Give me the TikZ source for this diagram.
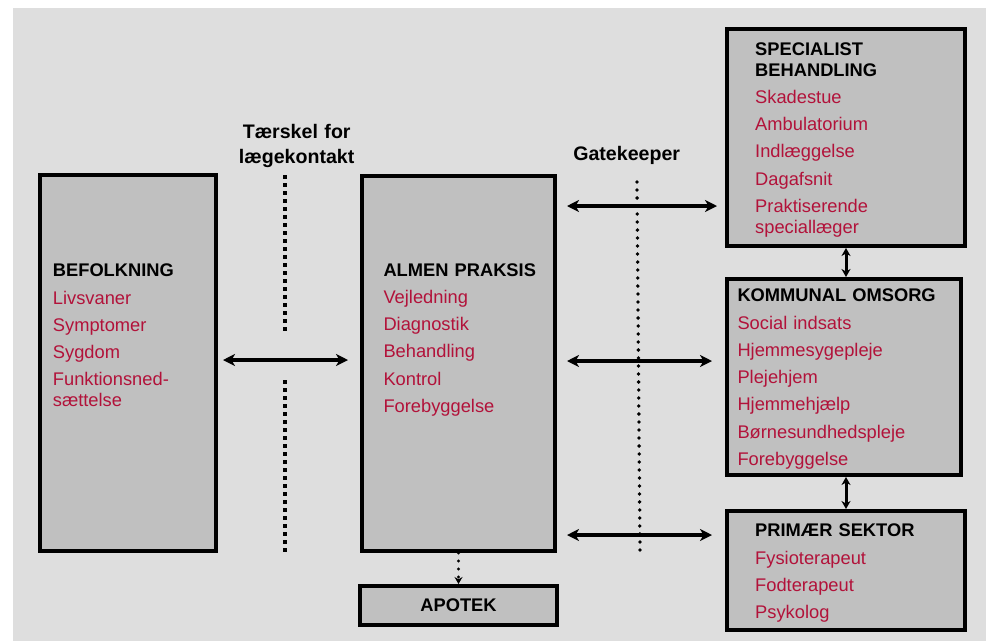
\documentclass[tikz,border=0pt]{standalone}
\usepackage{fontspec}
\setmainfont{Liberation Sans}
\usetikzlibrary{arrows.meta}
\definecolor{bggray}{RGB}{222,222,222}
\definecolor{boxgray}{RGB}{192,192,192}
\definecolor{itemred}{RGB}{178,18,58}
\newcommand{\hd}[1]{{\color{black}\bfseries #1}}
\newcommand{\itemgap}{\\[6.3pt]}
\begin{document}
\begin{tikzpicture}
[x=1pt,y=-1pt,
 box/.style={rectangle,draw,line width=4pt,fill=boxgray,inner sep=0pt},
 items/.style={anchor=base west,inner sep=0pt,text width=#1,align=left,text=itemred,font=\fontsize{18.3}{21}\selectfont},
 items/.default=200pt,
 gatetext/.style={anchor=base,inner sep=0pt,align=center,text width=140pt,font=\bfseries\fontsize{19.6}{25}\selectfont},
 twoway/.style={{Stealth[length=12pt,width=12pt,inset=3.5pt]}-{Stealth[length=12pt,width=12pt,inset=3.5pt]},line width=3.3pt},
 shortway/.style={{Stealth[length=8pt,width=9pt,inset=2.5pt]}-{Stealth[length=8pt,width=9pt,inset=2.5pt]},line width=3pt},
 sqdots/.style={line width=4pt,dash pattern=on 4pt off 4pt},
 rounddots/.style={line width=3.8pt,line cap=round,dash pattern=on 0pt off 8pt}]
\useasboundingbox (0,0) rectangle (986,641);
\fill[bggray] (13,8) rectangle (986,641);
\node[box,minimum width=176,minimum height=376] (befolk)   at (128,363)     {};
\node[box,minimum width=193,minimum height=375] (almen)    at (458.5,363.5) {};
\node[box,minimum width=197,minimum height=39,font=\bfseries\fontsize{18.3}{21}\selectfont] (apotek) at (458.5,605.5) {APOTEK};
\node[box,minimum width=238,minimum height=217] (spec)     at (846,137.5)   {};
\node[box,minimum width=234,minimum height=196] (kommunal) at (844,377)     {};
\node[box,minimum width=238,minimum height=119] (primaer)  at (846,570.5)   {};
\node[items=170pt] (befolk txt) at (52.7,276.7)
  {\hd{BEFOLKNING}\itemgap Livsvaner\itemgap Symptomer\itemgap Sygdom\itemgap Funktionsned-\\sættelse};
\node[items=170pt] (almen txt) at (383.3,276)
  {\hd{ALMEN PRAKSIS}\itemgap Vejledning\itemgap Diagnostik\itemgap Behandling\itemgap Kontrol\itemgap Forebyggelse};
\node[items] (spec txt) at (755,55)
  {\hd{SPECIALIST}\\\hd{BEHANDLING}\itemgap Skadestue\itemgap Ambulatorium\itemgap Indlæggelse\itemgap Dagafsnit\itemgap Praktiserende\\speciallæger};
\node[items=220pt] (kommunal txt) at (737.3,301.7)
  {\hd{KOMMUNAL OMSORG}\itemgap Social indsats\itemgap Hjemmesygepleje\itemgap Plejehjem\itemgap Hjemmehjælp\itemgap Børnesundhedspleje\itemgap Forebyggelse};
\node[items] (primaer txt) at (755,536.7)
  {\hd{PRIMÆR SEKTOR}\itemgap Fysioterapeut\itemgap Fodterapeut\itemgap Psykolog};
\node[gatetext] (threshold) at (296.7,138.5) {Tærskel for\\lægekontakt};
\node[gatetext] (gatekeeper) at (626.7,160.7) {Gatekeeper};
\coordinate (thr top)  at (285,175);
\coordinate (thr gapA) at (285,333);
\coordinate (thr gapB) at (285,380);
\coordinate (thr end)  at (285,553);
\coordinate (gk top)   at (637,182);
\coordinate (gk end)   at (640,552);
\coordinate (lvl left) at (0,360);
\coordinate (lvl spec) at (0,206);
\coordinate (lvl komm) at (0,361);
\coordinate (lvl prim) at (0,535);
\draw[sqdots] (thr top) -- (thr gapA) (thr gapB) -- (thr end);
\draw[rounddots] (gk top) -- (gk end);
\path (befolk.east |- lvl left) edge[twoway,shorten <=5pt,shorten >=12pt] (almen.west |- lvl left)
      (almen.east |- lvl spec)  edge[twoway,shorten <=10pt,shorten >=8pt]  (spec.west |- lvl spec)
      (almen.east |- lvl komm)  edge[twoway,shorten <=10pt,shorten >=13pt] (kommunal.west |- lvl komm)
      (almen.east |- lvl prim)  edge[twoway,shorten <=10pt,shorten >=13pt] (primaer.west |- lvl prim)
      (spec.south) edge[shortway] (spec.south |- kommunal.north)
      (spec.south |- kommunal.south) edge[shortway] (spec.south |- primaer.north)
      (almen.south) edge[rounddots,line width=3.2pt,-{Stealth[length=7pt,width=8pt]}] (apotek.north);
\end{tikzpicture}
\end{document}
